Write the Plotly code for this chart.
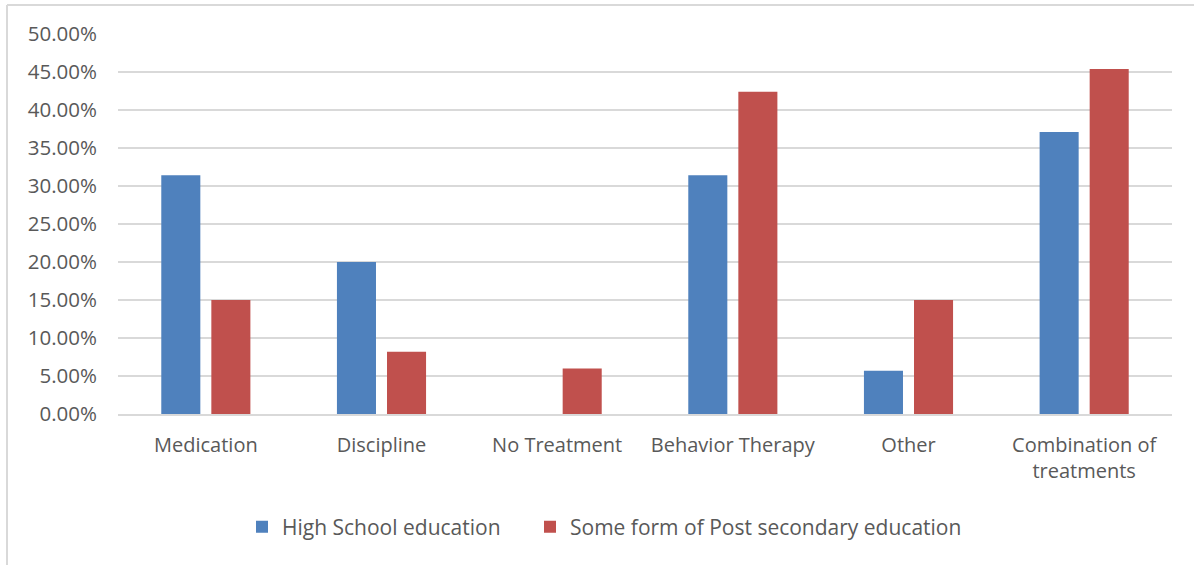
import plotly.graph_objects as go

# Treatment type by parent education level
categories = ["Medication", "Discipline", "No Treatment", "Behavior Therapy",
              "Other", "Combination of<br>treatments"]
high_school = [31.4, 20.0, 0.0, 31.4, 5.7, 37.1]
post_secondary = [15.0, 8.2, 6.0, 42.4, 15.0, 45.4]
series_names = ["High School education", "Some form of Post secondary education"]
y_ticks = [0, 5, 10, 15, 20, 25, 30, 35, 40, 45, 50]
y_tick_labels = [f"{v:.2f}%" for v in y_ticks]

BLUE = "#4f81bd"
RED = "#c0504d"
GRID = "#d9d9d9"
TEXT = "#595959"
FONT = "Open Sans"
FS = 20

fig = go.Figure()
fig.add_trace(go.Bar(x=categories, y=high_school, name=series_names[0],
                     marker=dict(color=BLUE, line=dict(width=0)),
                     legend="legend", showlegend=True))
fig.add_trace(go.Bar(x=categories, y=post_secondary, name=series_names[1],
                     marker=dict(color=RED, line=dict(width=0)),
                     legend="legend2", showlegend=True))

W, H = 1194, 565
L, R, T, B = 118, 22, 34, 151
pw, ph = W - L - R, H - T - B


def px_x(px):
    return (px - L) / pw


def px_y(py):
    return (H - B - py) / ph


# light outer chart frame (top and left edges)
frame = [
    dict(type="line", xref="paper", yref="paper",
         x0=px_x(7), x1=px_x(1194), y0=px_y(5), y1=px_y(5),
         line=dict(color=GRID, width=2)),
    dict(type="line", xref="paper", yref="paper",
         x0=px_x(7), x1=px_x(7), y0=px_y(5), y1=px_y(565),
         line=dict(color=GRID, width=2)),
]

legend_style = dict(orientation="h", xanchor="left", yanchor="middle",
                    y=px_y(527), itemwidth=30,
                    font=dict(family=FONT, size=21, color=TEXT))

fig.update_layout(
    width=W, height=H,
    margin=dict(l=L, r=R, t=T, b=B, autoexpand=False),
    paper_bgcolor="white", plot_bgcolor="white",
    barmode="group", bargap=0.43, bargroupgap=0.22,
    font=dict(family=FONT, size=FS, color=TEXT),
    shapes=frame,
    showlegend=True,
    legend=dict(x=px_x(242), **legend_style),
    legend2=dict(x=px_x(530), **legend_style),
    xaxis=dict(showgrid=False, showline=True, linecolor=GRID, linewidth=2,
               ticks="", tickfont=dict(family=FONT, size=FS, color=TEXT),
               ticklabelstandoff=12),
    yaxis=dict(range=[0, 50], tickmode="array", tickvals=y_ticks,
               ticktext=y_tick_labels,
               showgrid=True, gridcolor=GRID, gridwidth=2, zeroline=False,
               showline=False, ticks="",
               tickfont=dict(family=FONT, size=20.5, color=TEXT),
               ticklabelstandoff=20),
)

fig.write_html("out.html")
